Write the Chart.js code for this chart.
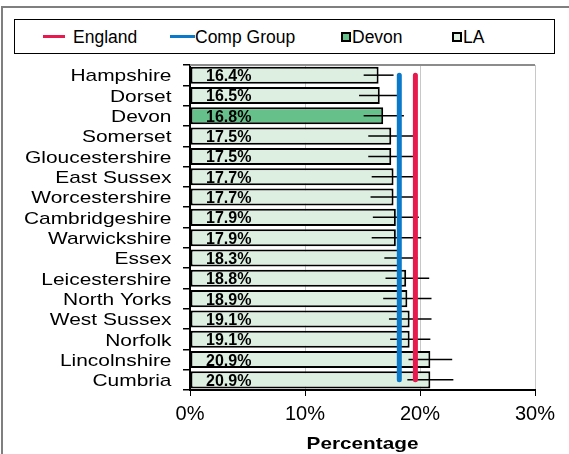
<!DOCTYPE html>
<html><head><meta charset="utf-8">
<script src="https://cdn.jsdelivr.net/npm/chart.js@4.4.0/dist/chart.umd.min.js"></script>
<style>
html,body{margin:0;padding:0;background:#fff;}
#wrap{position:relative;width:569px;height:454px;overflow:hidden;font-family:"Liberation Sans",Arial,sans-serif;}
#frame{position:absolute;left:1px;top:6px;width:700px;height:600px;border:2px solid #7f7f7f;box-sizing:border-box}
#c{position:absolute;left:0;top:0}
#legend{position:absolute;left:14px;top:19px;width:541px;height:35px;border:1px solid #000;box-sizing:border-box;background:#fff}
.txt{position:absolute;top:27px;height:20px;line-height:20px;font-size:17.5px;color:#000;white-space:nowrap}
.ln{position:absolute;top:35px;height:3px}
.bx{position:absolute;top:32px;width:10px;height:10px;border:2px solid #000;box-sizing:border-box}
</style></head>
<body>
<div id="wrap">
  <div id="frame"></div>
  <canvas id="c" width="569" height="454"></canvas>
  <div id="legend"></div>
  <div class="ln" style="left:43px;width:22px;background:#E8194F"></div>
  <div class="txt" style="left:73px">England</div>
  <div class="ln" style="left:170px;width:25px;background:#0B79C9"></div>
  <div class="txt" style="left:195px">Comp Group</div>
  <div class="bx" style="left:341px;background:#66C08A"></div>
  <div class="txt" style="left:352px">Devon</div>
  <div class="bx" style="left:452px;background:#DDEFE1"></div>
  <div class="txt" style="left:463px">LA</div>
</div>
<script>
const categories = ['Hampshire','Dorset','Devon','Somerset','Gloucestershire','East Sussex','Worcestershire','Cambridgeshire','Warwickshire','Essex','Leicestershire','North Yorks','West Sussex','Norfolk','Lincolnshire','Cumbria'];
const laValues = [16.4,16.5,16.8,17.5,17.5,17.7,17.7,17.9,17.9,18.3,18.8,18.9,19.1,19.1,20.9,20.9];
const ciLower  = [15.1,14.7,15.1,15.5,15.5,15.8,15.7,15.9,15.8,16.9,17.0,16.8,17.3,17.4,19.0,18.9];
const ciUpper  = [17.7,18.3,18.6,19.4,19.4,19.4,19.4,19.9,20.1,19.8,20.8,21.0,21.0,20.9,22.8,22.9];
const englandValue = 19.6;
const compGroupValue = 18.2;
const xTickValues = [0,10,20,30];
const xAxisTitle = 'Percentage';
const highlight = 'Devon';

const FONT = '"Liberation Sans", Arial, sans-serif';
Chart.defaults.font.family = FONT;
Chart.defaults.color = '#000';

const errAndLabels = {
  id:'errAndLabels',
  beforeDatasetsDraw(chart){
    const {ctx, chartArea:a} = chart;
    ctx.save();
    ctx.strokeStyle = '#8c8c8c';
    ctx.lineWidth = 2;
    ctx.beginPath();
    ctx.moveTo(a.left, a.top);
    ctx.lineTo(a.right, a.top);
    ctx.stroke();
    ctx.restore();
  },
  afterDatasetDraw(chart, args){
    if (args.index !== 2) return;
    const {ctx} = chart;
    const xs = chart.scales.x, ys = chart.scales.y;
    ctx.save();
    ctx.strokeStyle = '#000';
    ctx.lineWidth = 1.5;
    categories.forEach((c,i)=>{
      const y = ys.getPixelForValue(i);
      ctx.beginPath();
      ctx.moveTo(xs.getPixelForValue(ciLower[i]), y);
      ctx.lineTo(xs.getPixelForValue(ciUpper[i]), y);
      ctx.stroke();
    });
    ctx.fillStyle = '#000';
    ctx.font = 'bold 16px ' + FONT;
    ctx.textAlign = 'left';
    ctx.textBaseline = 'alphabetic';
    categories.forEach((c,i)=>{
      const y = ys.getPixelForValue(i);
      ctx.fillText(laValues[i].toFixed(1) + '%', xs.getPixelForValue(0) + 16, y + 6);
    });
    ctx.restore();
  },
  afterDraw(chart){
    const {ctx, chartArea:a} = chart;
    const ys = chart.scales.y;
    ctx.save();
    ctx.fillStyle = '#000';
    ctx.font = '17px ' + FONT;
    ctx.textAlign = 'right';
    ctx.textBaseline = 'alphabetic';
    categories.forEach((c,i)=>{
      const y = ys.getPixelForValue(i);
      ctx.save();
      ctx.translate(a.left - 18.5, y + 6.3);
      ctx.scale(1.23, 1);
      ctx.fillText(c, 0, 0);
      ctx.restore();
    });
    ctx.font = 'bold 17px ' + FONT;
    ctx.textAlign = 'center';
    ctx.translate((a.left + a.right) / 2, 448.5);
    ctx.scale(1.22, 1);
    ctx.fillText(xAxisTitle, 0, 0);
    ctx.restore();
  }
};

new Chart(document.getElementById('c'), {
  type:'bar',
  data:{
    labels: categories,
    datasets:[
      {type:'line', label:'England', indexAxis:'y', data: categories.map(()=>englandValue),
       borderColor:'#E8194F', borderWidth:5, borderCapStyle:'round', pointRadius:0, fill:false},
      {type:'line', label:'Comp Group', indexAxis:'y', data: categories.map(()=>compGroupValue),
       borderColor:'#0B79C9', borderWidth:5, borderCapStyle:'round', pointRadius:0, fill:false},
      {type:'bar', label:'LA', data: laValues,
       backgroundColor: categories.map(c=>c===highlight?'#66C08A':'#DDEFE1'),
       borderColor:'#000', borderWidth:2, borderSkipped:false,
       barPercentage:0.84, categoryPercentage:1}
    ]
  },
  options:{
    indexAxis:'y',
    responsive:false,
    animation:false,
    layout:{padding:{top:65,right:34,left:0,bottom:0}},
    plugins:{legend:{display:false}, tooltip:{enabled:false}},
    scales:{
      x:{
        min:0, max:30,
        afterBuildTicks: s => { s.ticks = xTickValues.map(v=>({value:v})); },
        ticks:{callback:v=>v+'%', font:{size:20}, color:'#000', padding:6, maxRotation:0},
        grid:{color:'#c8c8c8', tickColor:'#000', tickLength:6, lineWidth:1},
        border:{color:'#000', width:2},
        title:{display:false},
        afterFit: s => { s.height = 64; }
      },
      y:{
        ticks:{display:false, autoSkip:false},
        grid:{offset:true, drawOnChartArea:false, tickLength:7, color:'#000', lineWidth:1.5},
        border:{color:'#000', width:2},
        afterFit: s => { s.width = 190; }
      }
    }
  },
  plugins:[errAndLabels]
});
</script>
</body></html>
